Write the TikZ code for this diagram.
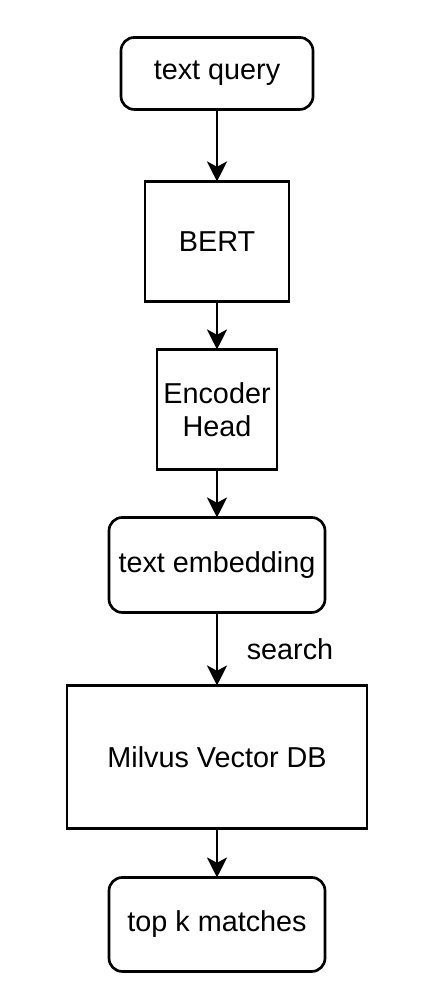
\documentclass[tikz,border=0pt]{standalone}
\usepackage{fontspec}
\setmainfont{Liberation Sans}
\usetikzlibrary{positioning,arrows.meta}

\begin{document}
\begin{tikzpicture}
        \tikzset{box/.style={draw,line width=2pt,outer sep=0pt,align=center,
            font=\fontsize{21.6}{24.75}\selectfont},
          roundbox/.style={box,rounded corners=10pt},
          flow/.style={line width=2pt,-{Stealth[length=15pt,width=15pt,inset=4pt]}}}
        \useasboundingbox (0,0) rectangle (333pt,-745.5pt);
        \node[roundbox,minimum width=144pt,minimum height=54pt] (query) at (162.75pt,-55.1pt) {text query};
        \node[box,minimum width=108pt,minimum height=90pt,below=54pt of query] (bert) {BERT};
        \node[box,minimum width=90pt,minimum height=90pt,below=36pt of bert] (head) {Encoder\\Head};
        \node[roundbox,minimum width=162pt,minimum height=71.25pt,below=36pt of head] (embed) {text embedding};
        \node[box,minimum width=225pt,minimum height=107.25pt,below=54.75pt of embed] (milvus) {Milvus Vector DB};
        \node[roundbox,minimum width=162pt,minimum height=70.5pt,below=36.75pt of milvus] (topk) {top k matches};
        % connectors
        \draw[flow] (query) -- (bert);
        \draw[flow] (bert) -- (head);
        \draw[flow] (head) -- (embed);
        \draw[flow] (embed) -- node[right=18pt,font=\fontsize{21.6}{24.75}\selectfont] (searchlbl) {search} (milvus);
        \draw[flow] (milvus) -- (topk);
      \end{tikzpicture}
\end{document}
